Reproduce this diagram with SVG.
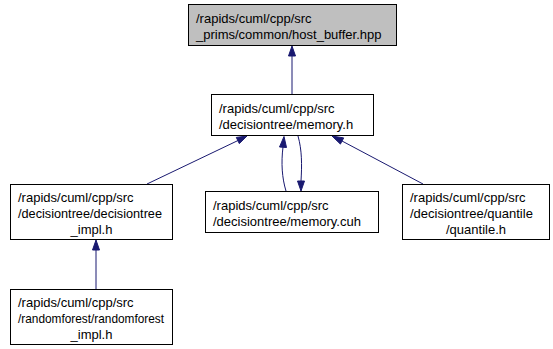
<svg xmlns="http://www.w3.org/2000/svg" width="553" height="349" viewBox="0 0 553 349">
  <style>
    .node rect { fill: #ffffff; stroke: #000000; stroke-width: 1; }
    .node.focus rect { fill: #bfbfbf; }
    .node text { font-family: "Liberation Sans", Arial, Helvetica, sans-serif; font-size: 13px; fill: #000000; }
    .node text.mid { text-anchor: middle; }
    .edge path { fill: none; stroke: #191970; stroke-width: 1; }
    .edge polygon { fill: #191970; stroke: #191970; stroke-width: 1; }
  </style>

  <!-- include dependency edges -->
  <g id="edges">
    <g class="edge" id="edge_memory_h_host_buffer">
      <path d="M292,94.5 L292,56"/>
      <polygon points="288.5,56 292,46 295.5,56"/>
    </g>
    <g class="edge" id="edge_dt_impl_memory_h">
      <path d="M147,184 L238,140.5"/>
      <polygon points="236.3,137.4 247,136 239.3,143.6"/>
    </g>
    <g class="edge" id="edge_memory_cuh_memory_h">
      <path d="M286,191 C282,178 281,163 283,147"/>
      <polygon points="279.5,147 284,136.5 286.5,147.5"/>
    </g>
    <g class="edge" id="edge_memory_h_memory_cuh">
      <path d="M298,136 C302,150 302,165 301,181"/>
      <polygon points="297.5,181 301,191 304.5,181"/>
    </g>
    <g class="edge" id="edge_quantile_memory_h">
      <path d="M423,184 L342,141"/>
      <polygon points="340.4,144.1 332,136 343.7,137.9"/>
    </g>
    <g class="edge" id="edge_rf_impl_dt_impl">
      <path d="M96,289 L96,250"/>
      <polygon points="92.5,250 96,240 99.5,250"/>
    </g>
  </g>

  <g class="node focus" id="node_host_buffer">
    <rect x="188.5" y="4.5" width="208" height="41"/>
    <text x="196" y="23">/rapids/cuml/cpp/src</text>
    <text x="196" y="39">_prims/common/host_buffer.hpp</text>
  </g>

  <g class="node" id="node_memory_h">
    <rect x="211.5" y="94.5" width="162" height="41"/>
    <text x="219" y="113">/rapids/cuml/cpp/src</text>
    <text x="219" y="129">/decisiontree/memory.h</text>
  </g>

  <g class="node" id="node_decisiontree_impl">
    <rect x="10.5" y="184.5" width="162" height="55"/>
    <text x="18" y="202">/rapids/cuml/cpp/src</text>
    <text x="18" y="218" textLength="144" lengthAdjust="spacingAndGlyphs">/decisiontree/decisiontree</text>
    <text class="mid" x="91.5" y="234">_impl.h</text>
  </g>

  <g class="node" id="node_memory_cuh">
    <rect x="205.5" y="191.5" width="173" height="41"/>
    <text x="213" y="210">/rapids/cuml/cpp/src</text>
    <text x="213" y="226">/decisiontree/memory.cuh</text>
  </g>

  <g class="node" id="node_quantile">
    <rect x="402.5" y="184.5" width="147" height="55"/>
    <text x="410" y="202">/rapids/cuml/cpp/src</text>
    <text x="410" y="218">/decisiontree/quantile</text>
    <text class="mid" x="476" y="234">/quantile.h</text>
  </g>

  <g class="node" id="node_randomforest_impl">
    <rect x="10.5" y="289.5" width="162" height="55"/>
    <text x="18" y="307">/rapids/cuml/cpp/src</text>
    <text x="18" y="323" textLength="146" lengthAdjust="spacingAndGlyphs">/randomforest/randomforest</text>
    <text class="mid" x="91.5" y="339">_impl.h</text>
  </g>
</svg>
